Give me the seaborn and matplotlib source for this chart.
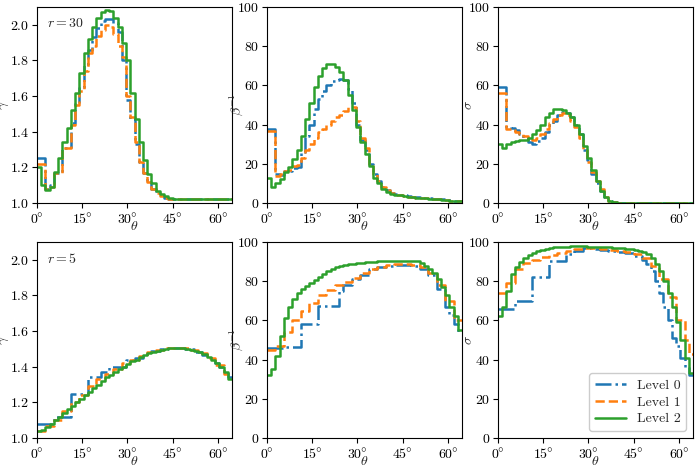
import numpy as np
import pandas as pd
import matplotlib
matplotlib.use("Agg")
import matplotlib.pyplot as plt
import seaborn as sns

# ---------------- data (fine bins of 1.40625 deg) ----------------
bin_width = 1.40625
levels = ["Level 0", "Level 1", "Level 2"]
theta_ticks = [0, 15, 30, 45, 60]

# r = 30 : gamma
gamma30_l0 = [1.25, 1.25, 1.08, 1.10, 1.17, 1.17, 1.31, 1.31, 1.45, 1.56, 1.65, 1.78, 1.86, 1.93, 1.98, 2.02,
              2.03, 2.03, 2.01, 1.96, 1.80, 1.58, 1.47, 1.33, 1.23, 1.17, 1.12, 1.08, 1.055, 1.04, 1.03, 1.025,
              1.02, 1.02, 1.02, 1.02, 1.02, 1.02, 1.02, 1.02, 1.02, 1.02, 1.02, 1.02, 1.02, 1.02]
gamma30_l1 = [1.22, 1.22, 1.08, 1.09, 1.17, 1.17, 1.31, 1.31, 1.44, 1.55, 1.63, 1.74, 1.84, 1.88, 1.94, 1.97,
              2.00, 1.99, 1.95, 1.88, 1.82, 1.60, 1.48, 1.34, 1.23, 1.17, 1.12, 1.08, 1.055, 1.04, 1.03, 1.025,
              1.02, 1.02, 1.02, 1.02, 1.02, 1.02, 1.02, 1.02, 1.02, 1.02, 1.02, 1.02, 1.02, 1.02]
gamma30_l2 = [1.20, 1.10, 1.075, 1.09, 1.175, 1.25, 1.34, 1.42, 1.52, 1.62, 1.73, 1.84, 1.92, 1.985, 2.04, 2.07,
              2.085, 2.075, 2.04, 1.99, 1.90, 1.80, 1.62, 1.47, 1.34, 1.24, 1.16, 1.11, 1.07, 1.05, 1.038, 1.03,
              1.025, 1.02, 1.02, 1.02, 1.02, 1.02, 1.02, 1.02, 1.02, 1.02, 1.02, 1.02, 1.02, 1.02]

# r = 30 : beta^-1
binv30_l0 = [38, 38, 15, 14.5, 16.5, 16.5, 18, 18.5, 26, 34, 40, 48, 53, 57, 60, 62,
             63, 63.5, 62.5, 58, 51, 40, 32, 27, 20, 15, 11, 8, 6.5, 5.3, 4.6, 4.2,
             3.9, 3.6, 3.3, 3.0, 2.8, 2.6, 2.4, 2.2, 2.0, 1.8, 1.6, 1.4, 1.2, 1.0]
binv30_l1 = [36.5, 36.5, 14, 15, 16.5, 17, 19, 19.5, 23, 27, 30, 33, 36, 38, 40, 42,
             44, 45, 47, 49, 49, 42, 33, 28, 20, 15, 11, 8, 6.5, 5.0, 4.2, 3.9,
             3.6, 3.3, 3.0, 2.8, 2.6, 2.4, 2.2, 2.0, 1.8, 1.6, 1.4, 1.2, 1.0, 0.9]
binv30_l2 = [13, 8, 10, 12.5, 16, 18.5, 22.7, 27, 34, 42.7, 51, 59.4, 65, 69, 71, 71,
             69.6, 67, 62.8, 55, 47.5, 39, 31, 25, 19, 13, 10, 7.3, 5.6, 4.8, 4.3, 3.9,
             3.6, 3.3, 3.0, 2.8, 2.6, 2.4, 2.2, 2.0, 1.8, 1.6, 1.4, 1.2, 1.1, 1.0]

# r = 30 : sigma
sigma30_l0 = [59, 59, 39, 38.5, 37, 35, 33, 31, 30, 31.5, 33, 36, 40, 42, 45, 46.5,
              46, 44, 40, 35, 27, 22, 15, 10, 6, 3, 1, 0.3, 0.1, 0, 0, 0,
              0, 0, 0, 0, 0, 0, 0, 0, 0, 0, 0, 0, 0, 0]
sigma30_l1 = [56, 56, 38, 37, 36, 35, 34, 33, 32, 33, 35, 38, 41, 43, 45, 46,
              45, 42, 39, 33, 27, 21, 16, 11, 7, 3, 1, 0.3, 0.1, 0, 0, 0,
              0, 0, 0, 0, 0, 0, 0, 0, 0, 0, 0, 0, 0, 0]
sigma30_l2 = [30, 28, 30, 31, 31.5, 32, 32, 33, 35, 37, 40, 44, 46, 48, 48, 47.5,
              46, 44, 40, 35, 29, 23, 17, 11, 6, 3, 1, 0.3, 0.1, 0, 0, 0,
              0, 0, 0, 0, 0, 0, 0, 0, 0, 0, 0, 0, 0, 0]

# r = 5 : gamma
gamma5_l0 = [1.08, 1.08, 1.08, 1.08, 1.12, 1.12, 1.12, 1.12, 1.245, 1.245, 1.245, 1.245, 1.34, 1.34, 1.34, 1.37,
             1.37, 1.40, 1.40, 1.40, 1.40, 1.44, 1.44, 1.45, 1.45, 1.47, 1.47, 1.49, 1.49, 1.50, 1.50, 1.505,
             1.505, 1.505, 1.505, 1.50, 1.50, 1.485, 1.485, 1.465, 1.465, 1.44, 1.42, 1.40, 1.37, 1.34]
gamma5_l1 = [1.04, 1.04, 1.065, 1.065, 1.10, 1.10, 1.15, 1.15, 1.20, 1.20, 1.24, 1.24, 1.29, 1.29, 1.33, 1.33,
             1.36, 1.36, 1.39, 1.39, 1.42, 1.42, 1.44, 1.44, 1.46, 1.46, 1.48, 1.48, 1.495, 1.495, 1.503, 1.503,
             1.507, 1.507, 1.503, 1.503, 1.493, 1.493, 1.475, 1.475, 1.45, 1.45, 1.41, 1.41, 1.36, 1.36]
gamma5_l2 = [1.04, 1.045, 1.06, 1.08, 1.10, 1.12, 1.14, 1.16, 1.18, 1.20, 1.22, 1.24, 1.26, 1.28, 1.30, 1.32,
             1.34, 1.355, 1.37, 1.385, 1.40, 1.415, 1.43, 1.44, 1.455, 1.465, 1.475, 1.48, 1.49, 1.495, 1.50, 1.503,
             1.505, 1.505, 1.503, 1.50, 1.495, 1.49, 1.48, 1.47, 1.455, 1.44, 1.42, 1.40, 1.37, 1.33]

# r = 5 : beta^-1
binv5_l0 = [46, 46, 46, 46, 46.5, 46.5, 46.5, 46.5, 58, 58, 58, 58, 67.5, 67.5, 67.5, 67.5,
            67.5, 75, 78, 78, 81, 81, 83, 83, 86, 86, 87.5, 87.5, 88, 88, 88.5, 88.5,
            88.5, 88.5, 88, 88, 86, 86, 83, 83, 76, 76, 67, 63, 58, 54]
binv5_l1 = [45, 45, 47, 47, 54, 54, 60, 60, 65, 65, 69, 69, 73, 73, 75.5, 75.5,
            78, 78, 79.5, 79.5, 81.5, 81.5, 84, 84, 86, 86, 87.5, 87.5, 88.5, 88.5, 89, 89,
            89, 89, 88.5, 88.5, 87, 87, 84, 84, 78, 78, 70, 70, 60, 60]
binv5_l2 = [32, 35, 42, 52, 61, 67, 71, 74, 76, 77.5, 79, 80.5, 82, 83.5, 85, 86,
            87, 87.8, 88.3, 88.7, 89, 89.3, 89.5, 89.7, 89.8, 90, 90.1, 90.2, 90.3, 90.4, 90.5, 90.5,
            90.5, 90.5, 90.5, 90.3, 89.5, 88, 86, 84, 81, 77, 73, 67, 62, 55]

# r = 5 : sigma
sigma5_l0 = [66, 66, 66, 66, 70, 70, 70, 70, 82, 82, 82, 82, 90.5, 90.5, 90.5, 90.5,
             94, 94, 95.5, 95.5, 97, 97, 96.5, 96.5, 96, 96, 95.5, 95.5, 95, 95, 94.5, 94.5,
             93, 93, 91, 89, 85, 80, 74, 67, 60, 51, 47, 41, 36, 32]
sigma5_l1 = [74, 74, 79, 79, 86, 86, 89.5, 89.5, 91, 91, 92.5, 92.5, 93.5, 93.5, 94.5, 94.5,
             95.5, 95.5, 96.5, 96.5, 97, 97, 97, 97, 96.5, 96.5, 96, 96, 95.5, 95.5, 95, 95,
             94, 94, 92, 92, 88, 88, 81, 81, 72, 72, 60, 60, 50, 43]
sigma5_l2 = [62, 67, 75, 83.5, 87.5, 90, 92, 93.5, 94.5, 95.5, 96, 96.5, 97, 97.3, 97.5, 97.6,
             97.7, 97.8, 97.8, 97.8, 97.8, 97.7, 97.6, 97.5, 97.4, 97.3, 97.2, 97.0, 96.9, 96.8, 96.6, 96.3,
             96, 95.5, 95, 94, 92, 89, 85, 80, 74, 67, 59, 50, 41, 33]

panels = [
    (r"$\gamma$", [gamma30_l0, gamma30_l1, gamma30_l2], (1.0, 2.1), r"$r = 30$"),
    (r"$\beta^{-1}$", [binv30_l0, binv30_l1, binv30_l2], (0, 100), None),
    (r"$\sigma$", [sigma30_l0, sigma30_l1, sigma30_l2], (0, 100), None),
    (r"$\gamma$", [gamma5_l0, gamma5_l1, gamma5_l2], (1.0, 2.1), r"$r = 5$"),
    (r"$\beta^{-1}$", [binv5_l0, binv5_l1, binv5_l2], (0, 100), None),
    (r"$\sigma$", [sigma5_l0, sigma5_l1, sigma5_l2], (0, 100), None),
]

# ---------------- style ----------------
sns.set_style("ticks")
plt.rcParams["font.family"] = ["cmr10", "DejaVu Serif"]
plt.rcParams["mathtext.fontset"] = "cm"
plt.rcParams["axes.unicode_minus"] = False
plt.rcParams["axes.formatter.use_mathtext"] = True
plt.rcParams["font.size"] = 10
plt.rcParams["axes.edgecolor"] = "black"
plt.rcParams["xtick.color"] = "black"
plt.rcParams["ytick.color"] = "black"

colors = ["#1f77b4", "#ff7f0e", "#2ca02c"]
styles = ["-.", "--", "-"]

fig = plt.figure(figsize=(6.97, 4.67), dpi=100)
lefts = [37 / 697, 267 / 697, 498 / 697]
w = 195 / 697
bottoms = [1 - 203 / 467, 1 - 438 / 467]
h = 196 / 467

for i, (ylab, series, ylim, note) in enumerate(panels):
    row, col = divmod(i, 3)
    ax = fig.add_axes([lefts[col], bottoms[row], w, h])
    for lvl, vals, c, ls in zip(levels, series, colors, styles):
        n = len(vals)
        x = np.arange(n + 1) * bin_width
        y = list(vals) + [vals[-1]]
        df = pd.DataFrame({"theta": x, "val": y})
        sns.lineplot(data=df, x="theta", y="val", ax=ax, color=c, linestyle=ls,
                     linewidth=1.8, drawstyle="steps-post", label=lvl, sort=False)
    ax.set_xlim(0, 46 * bin_width)
    ax.set_ylim(*ylim)
    ax.set_xticks(theta_ticks)
    ax.set_xticklabels([r"$%d\degree$" % t for t in theta_ticks])
    if ylim[1] > 50:
        yt = [0, 20, 40, 60, 80, 100]
        ax.set_yticks(yt)
        ax.set_yticklabels([r"$%d$" % v for v in yt])
        ax.set_ylabel(ylab)
        ax.yaxis.set_label_coords(-0.115, 0.5)
    else:
        yt = [1.0, 1.2, 1.4, 1.6, 1.8, 2.0]
        ax.set_yticks(yt)
        ax.set_yticklabels([r"$%.1f$" % v for v in yt])
        ax.set_ylabel(ylab)
        ax.yaxis.set_label_coords(-0.135, 0.5)
    ax.set_xlabel(r"$\theta$", labelpad=-4)
    ax.tick_params(direction="out", length=3.5, width=0.8, labelsize=10, pad=2)
    for s in ax.spines.values():
        s.set_linewidth(0.8)
    if note:
        ax.text(0.05, 0.95, note, transform=ax.transAxes, ha="left", va="top", fontsize=10)
    if i == 5:
        ax.legend(loc="lower right", fontsize=10, handlelength=2.2, borderpad=0.4,
                  labelspacing=0.3, framealpha=1, edgecolor="#cccccc")
    else:
        ax.get_legend().remove()

fig.savefig("out.png", dpi=100)
